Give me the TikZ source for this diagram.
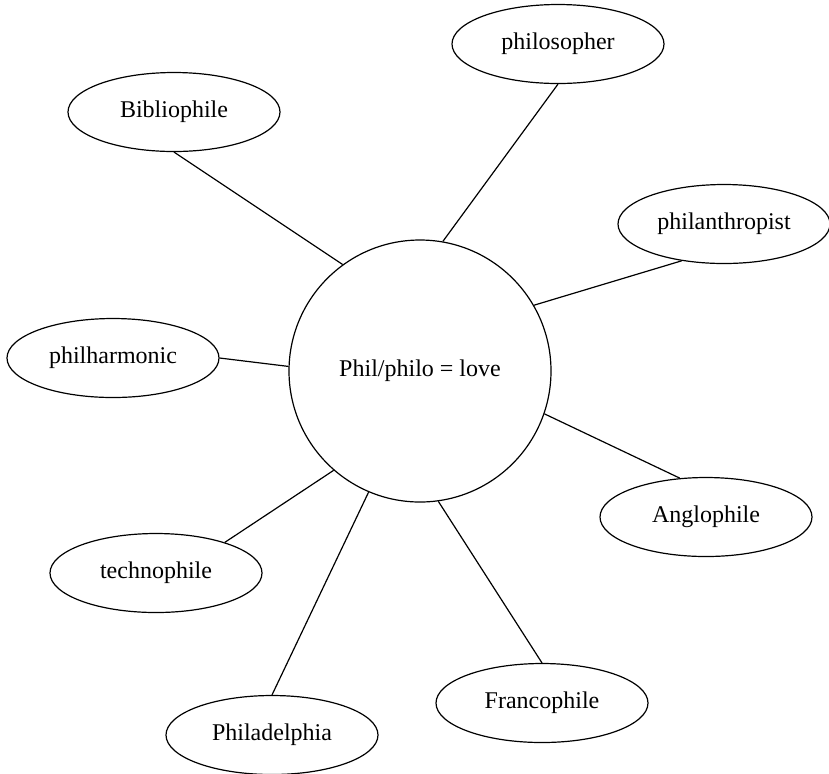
\documentclass[tikz,border=0pt]{standalone}
\usepackage{fontspec}
\setmainfont{Liberation Serif}
\usepackage{tikz}
\usetikzlibrary{shapes.geometric}

\begin{document}
\begin{tikzpicture}[x=0.5pt, y=-0.5pt,
        term/.style={draw, ellipse, line width=0.6pt, minimum width=106pt, minimum height=39.5pt, inner sep=0pt, align=center, font=\fontsize{12}{14}\selectfont},
        root/.style={draw, circle, line width=0.6pt, minimum size=131pt, inner sep=0pt, align=center, font=\fontsize{12}{14}\selectfont},
        link/.style={line width=0.6pt}
    ]
        \useasboundingbox (0,0) rectangle (829,773);

        \node[root] (love) at (420,371) {Phil/philo = love};

        \node[term] (philosopher) at (558,44) {philosopher};
        \node[term] (bibliophile) at (174,112) {Bibliophile};
        \node[term] (philanthropist) at (724,224) {philanthropist};
        \node[term] (philharmonic) at (113,358) {philharmonic};
        \node[term] (anglophile) at (706,517) {Anglophile};
        \node[term] (technophile) at (156,573) {technophile};
        \node[term] (francophile) at (542,703) {Francophile};
        \node[term] (philadelphia) at (272,735) {Philadelphia};

        \draw[link] (love.126) -- (bibliophile.south);
        \draw[link] (love.80) -- (philosopher.south);
        \draw[link] (love.30) -- (philanthropist.221);
        \draw[link] (love.178) -- (philharmonic.east);
        \draw[link] (love.-19) -- (anglophile.124);
        \draw[link] (love.229) -- (technophile.24);
        \draw[link] (love.247) -- (philadelphia.north);
        \draw[link] (love.278) -- (francophile.north);
    \end{tikzpicture}
\end{document}
